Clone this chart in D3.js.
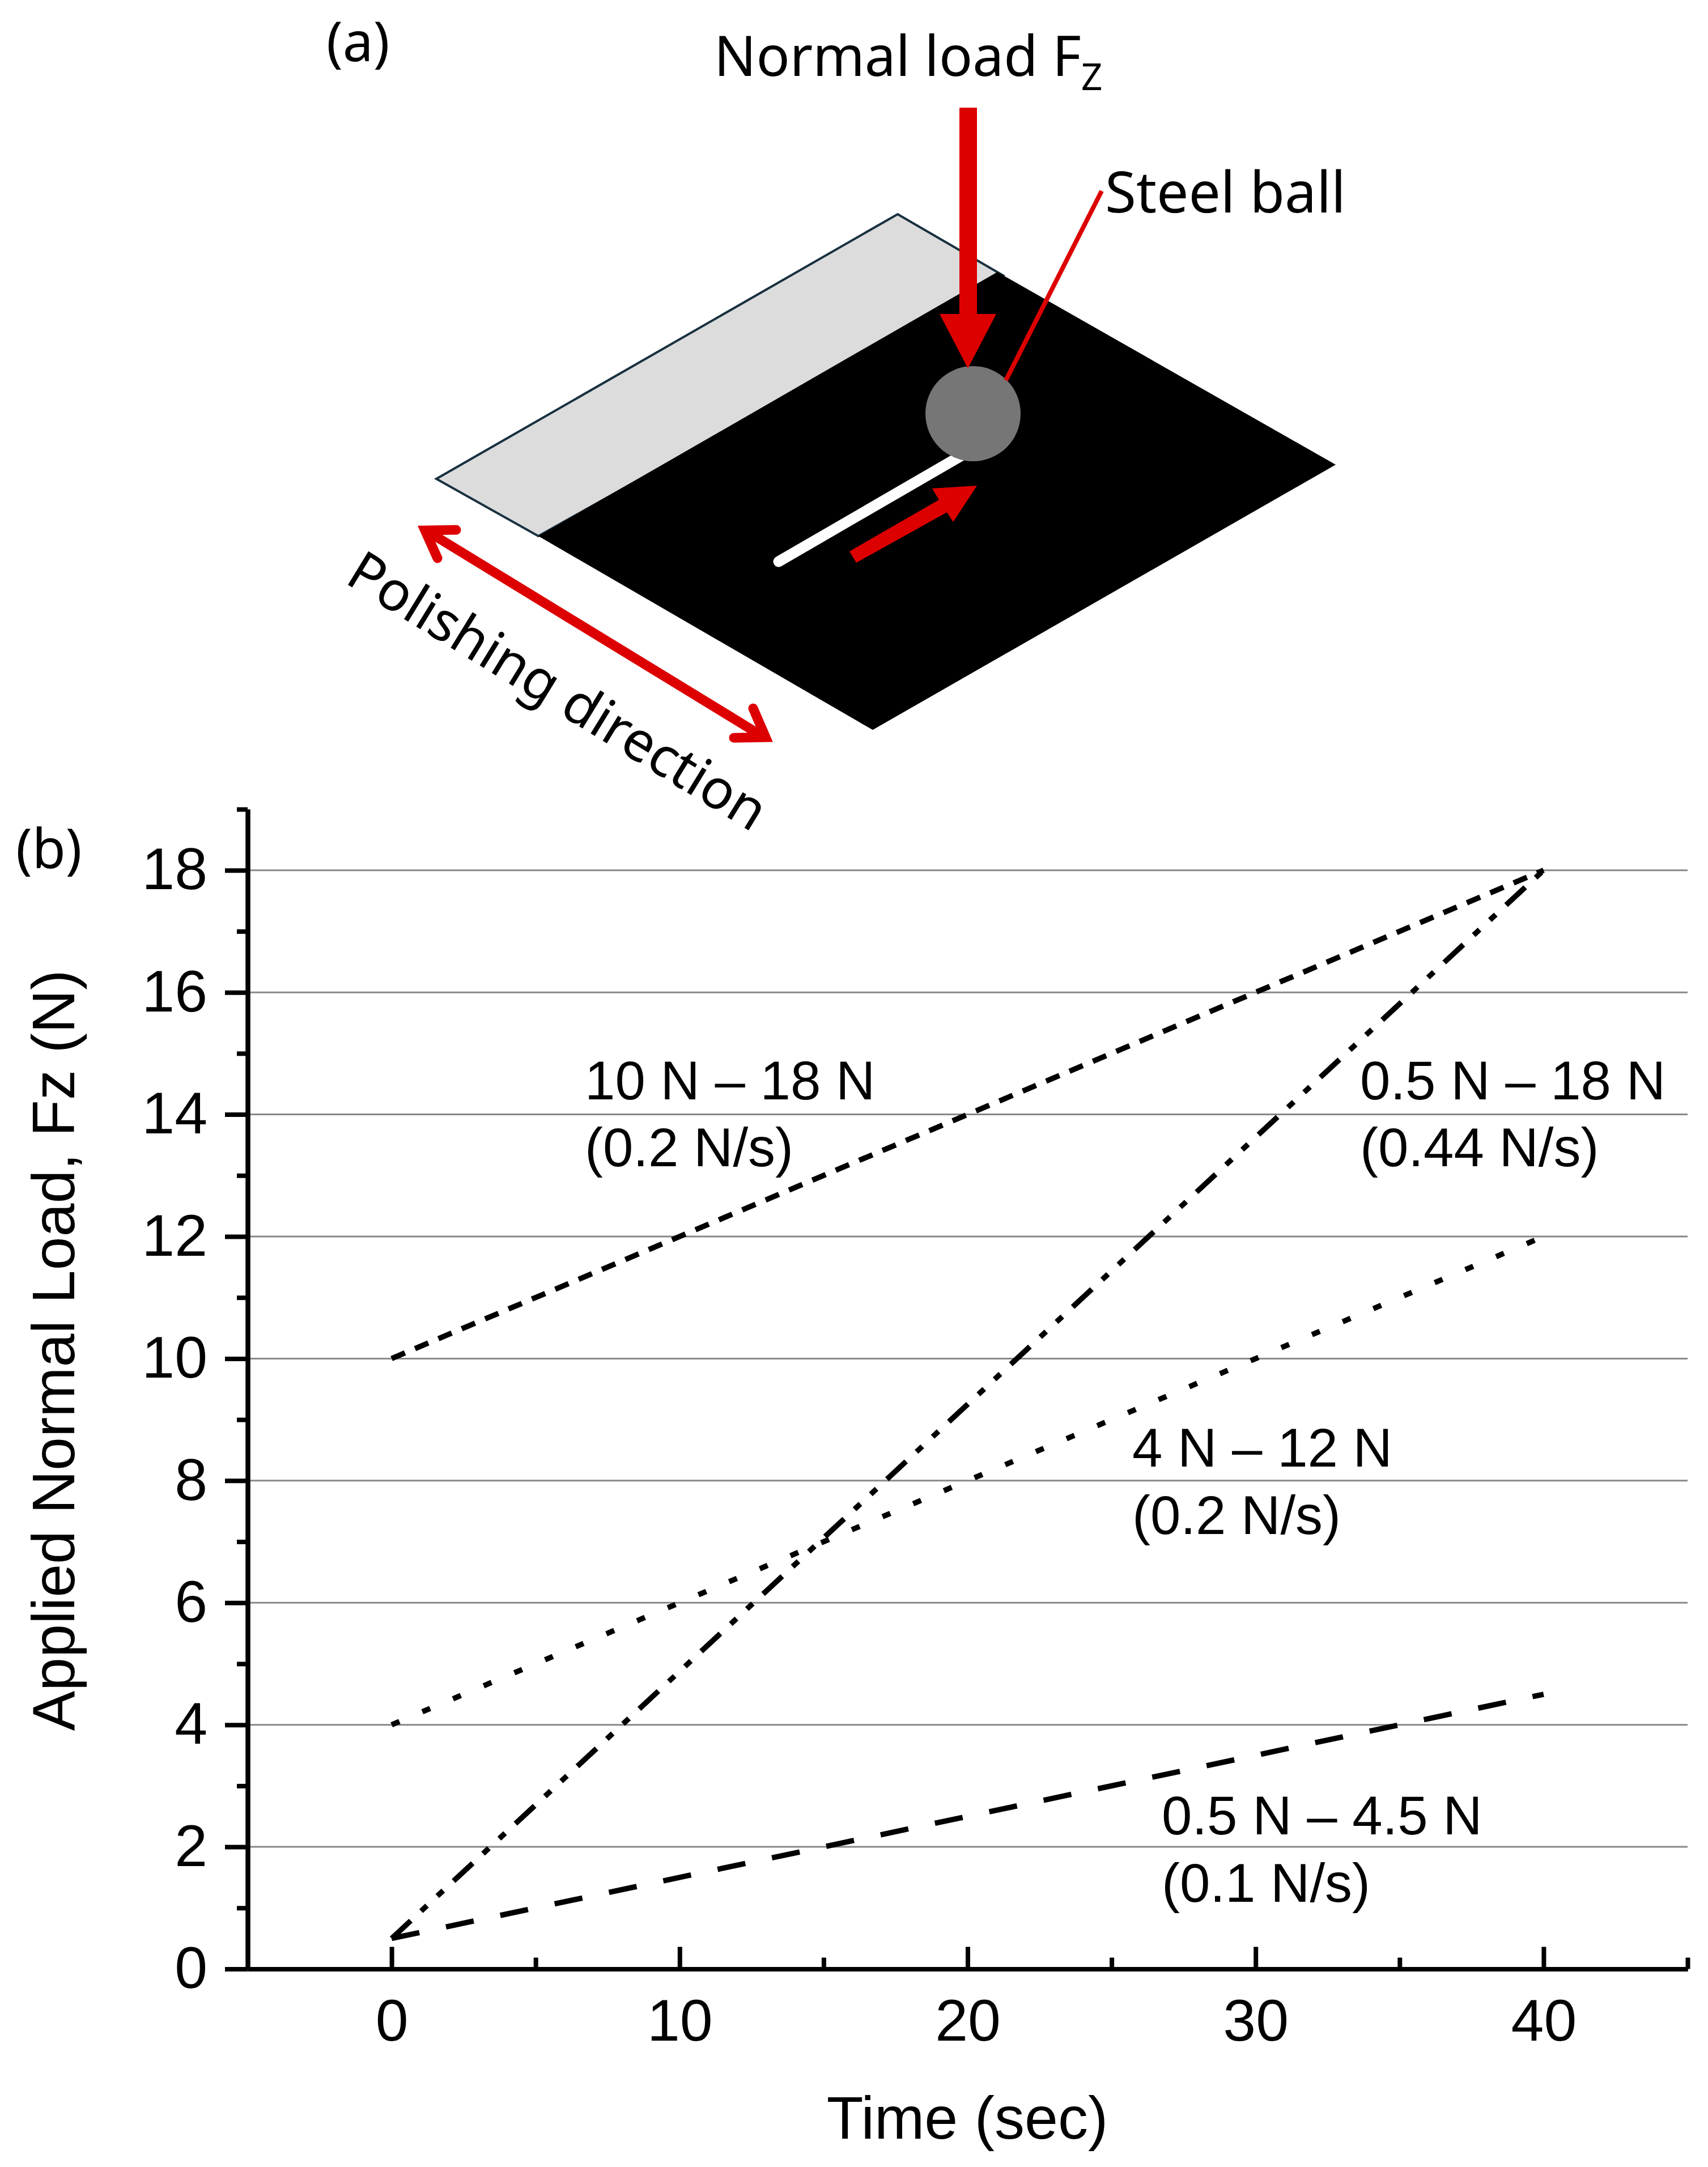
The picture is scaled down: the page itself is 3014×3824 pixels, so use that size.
<!DOCTYPE html>
<html lang="en">
<head>
<meta charset="utf-8">
<title>Applied normal load vs time</title>
<script src="https://cdn.jsdelivr.net/npm/d3@7"></script>
<style>
  html, body { margin: 0; background: #fff; }
  svg { display: block; }
  .chart text { font-family: "Liberation Sans", Arial, sans-serif; fill: #000; }
  .sketch text { font-family: "Noto Sans", sans-serif; fill: #000; }
</style>
</head>
<body>
<svg id="fig" width="3014" height="3824"></svg>
<script>
// data
var xMajor = [0, 10, 20, 30, 40];
var xMinor = [5, 15, 25, 35, 45];
var yMajor = [0, 2, 4, 6, 8, 10, 12, 14, 16, 18];
var yMinor = [1, 3, 5, 7, 9, 11, 13, 15, 17, 19];
var gridValues = [2, 4, 6, 8, 10, 12, 14, 16, 18];

var times = [0, 40];
var load10to18 = [10, 18];
var load05to18 = [0.5, 18];
var load4to12 = [4, 12];
var load05to45 = [0.5, 4.5];

var labels10to18 = ["10 N \u2013 18 N", "(0.2 N/s)"];
var labels05to18 = ["0.5 N \u2013 18 N", "(0.44 N/s)"];
var labels4to12 = ["4 N \u2013 12 N", "(0.2 N/s)"];
var labels05to45 = ["0.5 N \u2013 4.5 N", "(0.1 N/s)"];

var RED = "#dd0000";
var svg = d3.select("#fig");

/* ---------- (b) load chart ---------- */
var x = d3.scaleLinear().domain([-5, 45]).range([437, 2978]);
var y = d3.scaleLinear().domain([0, 19]).range([3474.5, 1428]);

var chart = svg.append("g").attr("class", "chart");

// gridlines first so the axes sit on top
chart.selectAll("line.grid").data(gridValues).enter().append("line")
  .attr("class", "grid")
  .attr("x1", x(-5)).attr("x2", x(45))
  .attr("y1", function(d) { return y(d); })
  .attr("y2", function(d) { return y(d); })
  .attr("stroke", "#888").attr("stroke-width", 3);

function styleAxis(g) {
  g.selectAll("path,line").attr("stroke", "#000").attr("stroke-width", 8);
  g.selectAll("text").attr("font-size", 104).attr("font-family", "Liberation Sans").attr("fill", "#000");
}

chart.append("g").attr("transform", "translate(" + x(-5) + ",0)")
  .call(d3.axisLeft(y).tickValues(yMinor).tickSize(19).tickSizeOuter(0).tickFormat(""))
  .call(styleAxis);
chart.append("g").attr("transform", "translate(" + x(-5) + ",0)")
  .call(d3.axisLeft(y).tickValues(yMajor).tickSize(40).tickSizeOuter(0).tickPadding(31).tickFormat(d3.format("d")))
  .call(styleAxis);
// x ticks point up into the plot
chart.append("g").attr("transform", "translate(0," + y(0) + ")")
  .call(d3.axisBottom(x).tickValues(xMinor).tickSize(-20).tickSizeOuter(0).tickFormat(""))
  .call(styleAxis);
chart.append("g").attr("transform", "translate(0," + y(0) + ")")
  .call(d3.axisBottom(x).tickValues(xMajor).tickSize(-39).tickSizeOuter(0).tickPadding(53).tickFormat(d3.format("d")))
  .call(styleAxis);

chart.append("text").attr("x", 1707).attr("y", 3774)
  .attr("text-anchor", "middle").attr("font-size", 106).text("Time (sec)");
chart.append("text")
  .attr("transform", "translate(131,2383) rotate(-90)")
  .attr("text-anchor", "middle").attr("font-size", 106).text("Applied Normal Load, Fz (N)");

var line = d3.line()
  .x(function(d) { return x(d[0]); })
  .y(function(d) { return y(d[1]); });

function drawSeries(values, dash) {
  chart.append("path")
    .attr("d", line(d3.zip(times, values)))
    .attr("fill", "none").attr("stroke", "#000").attr("stroke-width", 9.5)
    .attr("stroke-dasharray", dash);
}
drawSeries(load10to18, "25.5,19.3");
drawSeries(load05to18, "46,25,14,25,14,25");
drawSeries(load4to12, "15,43.8");
drawSeries(load05to45, "50,48");

function drawNote(lines, left, base1, base2) {
  chart.append("text").attr("x", left).attr("y", base1).attr("font-size", 96).text(lines[0]);
  chart.append("text").attr("x", left).attr("y", base2).attr("font-size", 96).text(lines[1]);
}
drawNote(labels10to18, 1032, 1940, 2058);
drawNote(labels05to18, 2400, 1940, 2058);
drawNote(labels4to12, 1998, 2588, 2707);
drawNote(labels05to45, 2050, 3237, 3356);

/* ---------- (a) schematic ---------- */
var sketch = svg.append("g").attr("class", "sketch");

function poly(pts, fill) {
  return sketch.append("polygon").attr("points", pts.join(" ")).attr("fill", fill);
}
// plate: grey strip, then the black coated part
poly([[1584, 378], [1770, 486], [950, 946], [770, 845]], "#dcdcdc")
  .attr("stroke", "#17303f").attr("stroke-width", 4).attr("stroke-linejoin", "miter");
poly([[1760, 480], [2357, 820], [1540, 1288], [950, 946]], "#000");

// scratch
sketch.append("line").attr("x1", 1374).attr("y1", 991).attr("x2", 1700).attr("y2", 802)
  .attr("stroke", "#fff").attr("stroke-width", 19).attr("stroke-linecap", "round");

// ball
sketch.append("circle").attr("cx", 1717).attr("cy", 730).attr("r", 84).attr("fill", "#767676");

// load arrow
poly([[1693, 190], [1724, 190], [1724, 554], [1758, 554], [1708, 650], [1658, 554], [1693, 554]], RED);

// leader to steel ball
sketch.append("line").attr("x1", 1944).attr("y1", 337).attr("x2", 1775).attr("y2", 671)
  .attr("stroke", RED).attr("stroke-width", 8);

// small motion arrow
poly([[1499, 973], [1657, 882], [1645, 862], [1724, 857], [1682, 921], [1671, 904], [1511, 993]], RED);

// polishing double arrow
var dbl = sketch.append("g").attr("fill", "none").attr("stroke", RED).attr("stroke-width", 17);
dbl.append("line").attr("x1", 750).attr("y1", 935).attr("x2", 1350).attr("y2", 1302);
dbl.append("polyline").attr("points", "805,935 750,936 772,985")
  .attr("stroke-linecap", "round").attr("stroke-linejoin", "miter").attr("stroke-miterlimit", 10);
dbl.append("polyline").attr("points", "1295,1302 1351,1301 1329,1250")
  .attr("stroke-linecap", "round").attr("stroke-linejoin", "miter").attr("stroke-miterlimit", 10);

// text
sketch.append("text").attr("x", 576).attr("y", 108).attr("font-size", 96).text("(a)");
sketch.append("text").attr("x", 28).attr("y", 1532).attr("font-size", 96).text("(b)");

var normal = sketch.append("text").attr("x", 1260).attr("y", 134).attr("font-size", 98);
normal.append("tspan").text("Normal load F");
normal.append("tspan").attr("dy", 25).attr("font-size", 66).text("Z");

sketch.append("text").attr("x", 1950).attr("y", 375).attr("font-size", 100).text("Steel ball");
sketch.append("text").attr("transform", "translate(606,1027) rotate(31.5)")
  .attr("font-size", 97).text("Polishing direction");
</script>
</body>
</html>
